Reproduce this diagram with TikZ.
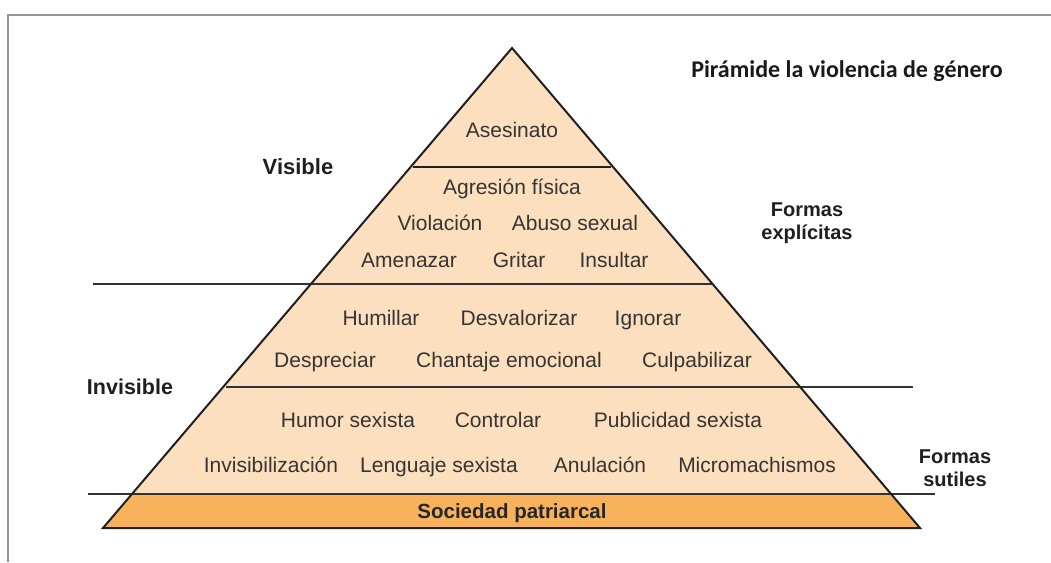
\documentclass[tikz,border=0pt]{standalone}
\usepackage{fontspec}
\setmainfont{Liberation Sans}
\newfontfamily\titlefont{Carlito}
\definecolor{peach}{RGB}{251,223,190}
\definecolor{orangeband}{RGB}{248,178,92}
\definecolor{inktext}{RGB}{55,52,50}
\definecolor{framegray}{RGB}{150,150,150}
\definecolor{edge}{RGB}{35,31,32}
\tikzset{
  item/.style={font=\fontsize{21}{25}\selectfont, text=inktext, inner sep=0pt, anchor=center, text height=18pt, text depth=3pt},
  side/.style={font=\bfseries\fontsize{21.5}{25}\selectfont, text=black!88, inner sep=0pt, align=center, anchor=center},
  band/.style={line width=2pt, draw=edge},
  guide/.style={line width=2.2pt, draw=black!80},
}
\begin{document}
\begin{tikzpicture}[x=1pt,y=-1pt]
\useasboundingbox (0,0) rectangle (1051,562);
\fill[white] (0,0) rectangle (1051,562);
% frame
\draw[framegray, line width=2pt] (8,562) -- (8,15) -- (1051,15);
% pyramid
\coordinate (apex) at (512,48);
\coordinate (bl) at (103,528);
\coordinate (br) at (920,528);
\fill[peach] (apex) -- (br) -- (bl) -- cycle;
\fill[orangeband] (132,494) -- (891,494) -- (br) -- (bl) -- cycle;
% guide lines
\draw[guide] (93,284) -- (712,284);
\draw[guide] (226,387) -- (913,387);
\draw[guide] (88,494) -- (935,494);
\draw[band] (413,167) -- (611,167);
\draw[line width=2pt, draw=edge, line join=miter] (apex) -- (br) -- (bl) -- cycle;
% title
\node[font=\titlefont\bfseries\fontsize{24}{28}\selectfont, inner sep=0pt, text=black!90] (title) at (847,71) {Pirámide la violencia de género};
% side labels
\node[side, font=\bfseries\fontsize{22}{26}\selectfont] (vis) at (298,167) {Visible};
\node[side] (invis) at (130,387) {Invisible};
\node[side, font=\bfseries\fontsize{20}{23}\selectfont] (fexp) at (807,223) {Formas\\explícitas};
\node[side, font=\bfseries\fontsize{20}{23}\selectfont] (fsut) at (955,468) {Formas\\sutiles};
% items
\node[item] (a1) at (512,130) {Asesinato};
\node[item] (b1) at (512,187) {Agresión física};
\node[item] (b2) at (440,223) {Violación};
\node[item] (b3) at (575,223) {Abuso sexual};
\node[item] (b4) at (409,260) {Amenazar};
\node[item] (b5) at (519,260) {Gritar};
\node[item] (b6) at (614,260) {Insultar};
\node[item] (c1) at (381,318) {Humillar};
\node[item] (c2) at (519,318) {Desvalorizar};
\node[item] (c3) at (648,318) {Ignorar};
\node[item] (c4) at (325,360) {Despreciar};
\node[item] (c5) at (509,360) {Chantaje emocional};
\node[item] (c6) at (697,360) {Culpabilizar};
\node[item] (d1) at (348,420) {Humor sexista};
\node[item] (d2) at (498,420) {Controlar};
\node[item] (d3) at (678,420) {Publicidad sexista};
\node[item] (d4) at (271,465) {Invisibilización};
\node[item] (d5) at (439,465) {Lenguaje sexista};
\node[item] (d6) at (600,465) {Anulación};
\node[item] (d7) at (757,465) {Micromachismos};
\node[item, font=\bfseries\fontsize{20.5}{24}\selectfont, text=black!85] (e1) at (512,511) {Sociedad patriarcal};
\end{tikzpicture}
\end{document}
